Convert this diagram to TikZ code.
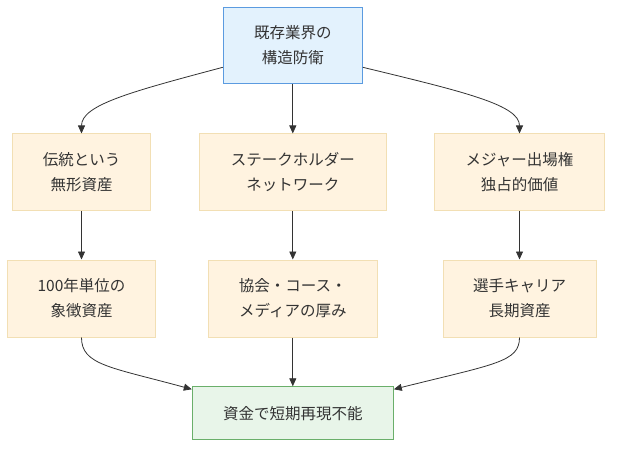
\documentclass[tikz,border=0pt]{standalone}
\usepackage{fontspec}
\setmainfont{Noto Sans CJK JP}
\usetikzlibrary{arrows.meta}
\definecolor{topfill}{HTML}{E3F2FD}
\definecolor{topline}{HTML}{5B9BE0}
\definecolor{midfill}{HTML}{FFF3E0}
\definecolor{midline}{HTML}{F2DFB4}
\definecolor{endfill}{HTML}{E8F5E9}
\definecolor{endline}{HTML}{6AAF6A}
\definecolor{txt}{HTML}{333333}

\begin{document}
\begin{tikzpicture}[
  x=1pt, y=1pt,
  every node/.style={font=\fontsize{15.5pt}{25pt}\selectfont, text=txt, align=center, inner sep=0pt},
  head/.style={rectangle, draw=topline, fill=topfill, line width=1pt, minimum height=76pt},
  asset/.style={rectangle, draw=midline, fill=midfill, line width=1pt, minimum height=77pt},
  result/.style={rectangle, draw=endline, fill=endfill, line width=1pt, minimum height=53pt},
  arr/.style={draw=txt, line width=0.8pt, -{Triangle[length=8pt,width=7pt]}}
]
\useasboundingbox (0,0) rectangle (620,-454);

% Kopf
\node[head, minimum width=139pt] (top) at (292.8,-45.3) {既存業界の\\構造防衛};

% Zeile 1
\node[asset, minimum width=138pt] (trad)  at (81.5,-172.5)  {伝統という\\無形資産};
\node[asset, minimum width=187pt] (stake) at (292.8,-172.5) {ステークホルダー\\ネットワーク};
\node[asset, minimum width=170pt] (major) at (519.5,-172.5) {メジャー出場権\\独占的価値};

% Zeile 2
\node[asset, minimum width=148pt] (sym)    at (81.5,-298.5)  {100年単位の\\象徴資産};
\node[asset, minimum width=169pt] (assoc)  at (292.8,-298.5) {協会・コース・\\メディアの厚み};
\node[asset, minimum width=153pt] (career) at (519.5,-298.5) {選手キャリア\\長期資産};

% Ergebnis
\node[result, minimum width=201pt] (goal) at (292.8,-413.3) {資金で短期再現不能};

% Pfeile
\draw[arr] ([yshift=-22pt]top.west) .. controls (130,-92) and (81.5,-105) .. (trad.north);
\draw[arr] (top.south) -- (stake.north);
\draw[arr] ([yshift=-22pt]top.east) .. controls (465,-92) and (519.5,-105) .. (major.north);

\foreach \a/\b in {trad/sym, stake/assoc, major/career}
  \draw[arr] (\a.south) -- (\a.south |- \b.north);

\draw[arr] (sym.south) .. controls (81.5,-365) and (110,-367) .. ([yshift=-3pt]goal.north west);
\draw[arr] (assoc.south) -- (goal.north);
\draw[arr] (career.south) .. controls (519.5,-362) and (495,-364) .. ([yshift=-3pt]goal.north east);
\end{tikzpicture}
\end{document}
